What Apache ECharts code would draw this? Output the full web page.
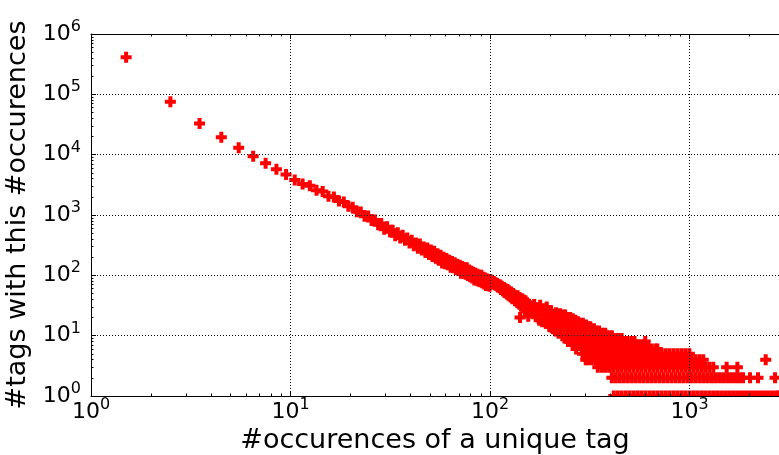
<!DOCTYPE html>
<html><head><meta charset="utf-8">
<script src="https://cdn.jsdelivr.net/npm/echarts@6/dist/echarts.min.js"></script>
<style>html,body{margin:0;padding:0;background:#fff}#c{width:779px;height:455px}</style>
</head><body><div id="c"></div><script>
// histogram: x = #occurrences (bin centre), y = #tags with that many occurrences
const headX = [1.5, 2.5, 3.5, 4.5, 5.5, 6.5, 7.5, 8.5, 9.5, 10.5];
const headY = [410000, 75000, 33000, 19500, 13000, 9400, 7200, 5750, 4680, 3820];

// bins 11.5 ... 99.5 (one per integer)
const bandFirstBin = 11.5;
const bandY = [3280,3050,2560,2450,2050,1990,1700,1640,1390,
  1350,1130,1120,950,960,810,830,690,720,580,640,530,560,455,510,415,
  460,380,415,345,380,310,345,280,330,262,295,238,
  285,222,262,205,250,192,228,178,215,160,200,155,190,150,178,136,170,133,162,
  125,152,120,147,108,140,108,134,104,134,99,122,95,117,90,112,84,108,84,104,
  80,100,78,100,75,93,72,90,68,87,68,85,66];

// bins 100.5..160.5 (step 1) then 162.5..230.5 (step 2)
const midY1 = [85,77,81,72,79,70,75,68,73,64,70,62,69,58,66,60,55,63,52,60,
  54,49,58,47,55,50,44,53,46,41,50,43,47,38,45,41,36,46,39,34,
  43,20,37,31,41,35,29,39,33,27,38,31,26,35,29,21,33,27,24,31,26];
const midY2 = [30,23,33,25,21,29,24,18,32,22,17,27,20,25,16,30,19,23,14,21,
  26,17,13,22,18,12,24,15,20,11,17,23,14,19,10];

// tail: small counts; for each count level, the occurrence values where it appears
const levelY = [22, 20, 19, 18, 17, 16, 15, 14, 13, 12, 11, 10, 9, 8, 7, 6, 5, 4, 3, 2, 1];
const levelX = [
  [233, 238],
  [235, 246, 252],
  [232, 241, 252, 260],
  [235, 246, 258, 268],
  [232, 241, 252, 264, 276],
  [235, 246, 258, 270, 282, 292],
  [232, 241, 252, 264, 276, 289, 303],
  [235, 246, 258, 270, 282, 296, 310, 318],
  [232, 241, 252, 264, 276, 289, 303, 317, 332],
  [235, 246, 258, 270, 282, 296, 310, 324, 339, 352],
  [232, 241, 252, 264, 276, 289, 303, 317, 332, 347, 364, 378],
  [235, 246, 258, 270, 282, 296, 310, 324, 339, 355, 372, 390, 408],
  [241, 252, 264, 276, 289, 303, 317, 332, 347, 364, 381, 399, 417, 437, 457],
  [246, 258, 270, 282, 296, 310, 324, 339, 355, 372, 390, 408, 427, 447, 468, 490, 513, 530, 600],
  [264, 276, 289, 303, 317, 332, 347, 364, 381, 399, 417, 437, 457, 479, 501, 525, 550, 575, 595],
  [270, 289, 296, 310, 324, 339, 355, 372, 390, 408, 427, 447, 468, 490, 513, 537, 562, 588, 616, 645, 675, 690],
  [291, 303, 317, 332, 347, 364, 381, 399, 417, 437, 457, 479, 501, 525, 550, 575, 602, 631, 660, 691, 724, 758, 793, 831, 870, 911, 953, 998],
  [302, 310, 324, 339, 355, 372, 390, 408, 427, 447, 468, 490, 513, 537, 562, 588, 616, 645, 675, 707, 740, 775, 812, 850, 890, 932, 976, 1021, 1069, 1120, 1172, 2410],
  [347, 364, 381, 399, 417, 437, 457, 479, 501, 525, 550, 575, 602, 631, 660, 691, 724, 758, 793, 831, 870, 911, 953, 998, 1045, 1094, 1146, 1199, 1256, 1316, 1535, 1738],
  [408, 427, 447, 468, 490, 513, 537, 562, 588, 616, 645, 675, 707, 740, 775, 812, 850, 890, 932, 976, 1021, 1069, 1120, 1172, 1227, 1285, 1345, 1408, 1474, 1544, 1616, 1692, 1771, 1854, 2011, 2205, 2684],
  [417, 437, 457, 479, 501, 525, 550, 575, 602, 631, 660, 691, 724, 758, 793, 831, 870, 911, 953, 998, 1045, 1094, 1146, 1199, 1256, 1315, 1376, 1441, 1509, 1580, 1654, 1732, 1813, 1898, 1987, 2081, 2178, 2281, 2388, 2500, 2618, 2741, 2800]
];

const xTitle = '#occurences of a unique tag';
const yTitle = '#tags with this #occurences';

// ---- assemble points ----
const pts = [];
headX.forEach((x, i) => pts.push([x, headY[i]]));
bandY.forEach((y, i) => pts.push([bandFirstBin + i, y]));
midY1.forEach((y, i) => pts.push([100.5 + i, y]));
midY2.forEach((y, i) => pts.push([162.5 + 2 * i, y]));
levelY.forEach((y, li) => levelX[li].forEach(x => pts.push([x, y])));

const minorX = [], minorY = [];
for (let d = 0; d < 4; d++) for (let k = 2; k <= 9; k++) minorX.push(d + Math.log10(k));
for (let d = 0; d < 6; d++) for (let k = 2; k <= 9; k++) minorY.push(d + Math.log10(k));

const FONT = 'DejaVu Sans';
const rich = {
  b: { fontSize: 22, fontFamily: FONT, color: '#000', lineHeight: 30 },
  s: { fontSize: 16, fontFamily: FONT, color: '#000', lineHeight: 18, verticalAlign: 'top' }
};
const fmt = v => '{b|10}{s|' + Math.round(Math.log10(v)) + '}';
const spine = { onZero: false, lineStyle: { color: '#000', width: 1 } };
const grid = { show: true, lineStyle: { color: '#000', width: 1, type: [1, 2] } };

// filled "plus" marker, half-arm 5.5 px, half-thickness 2 px
const A = 5.5, T = 2;
function plus(api) {
  const p = api.coord([api.value(0), api.value(1)]);
  const x = p[0], y = p[1];
  return {
    type: 'polygon',
    shape: { points: [
      [x - T, y - A], [x + T, y - A], [x + T, y - T], [x + A, y - T], [x + A, y + T], [x + T, y + T],
      [x + T, y + A], [x - T, y + A], [x - T, y + T], [x - A, y + T], [x - A, y - T], [x - T, y - T]
    ] },
    style: { fill: '#ff0000' }
  };
}

const chart = echarts.init(document.getElementById('c'), null, { renderer: 'canvas' });
chart.setOption({
  animation: false,
  backgroundColor: '#fff',
  grid: { left: 91, top: 34, right: -110, bottom: 59, containLabel: false, outerBoundsMode: 'none' },
  xAxis: [
    { type: 'log', min: 1, max: 10000, position: 'bottom', z: 5,
      axisLine: spine, axisTick: { inside: true, length: 5, lineStyle: { color: '#000' } },
      splitLine: grid, axisLabel: { margin: 1, formatter: fmt, rich: rich },
      name: xTitle, nameLocation: 'middle', nameGap: 31,
      nameTextStyle: { fontSize: 27, fontFamily: FONT, color: '#000', padding: [0, 110, 0, 0] } },
    { type: 'value', min: 0, max: 4, position: 'bottom', z: 5,
      axisLine: { show: false, onZero: false }, axisTick: { inside: true, length: 2.5, customValues: minorX, lineStyle: { color: '#000' } },
      axisLabel: { show: false }, splitLine: { show: false } },
    { type: 'log', min: 1, max: 10000, position: 'top', z: 5,
      axisLine: spine, axisTick: { inside: true, length: 5, lineStyle: { color: '#000' } },
      axisLabel: { show: false }, splitLine: { show: false } },
    { type: 'value', min: 0, max: 4, position: 'top', z: 5,
      axisLine: { show: false, onZero: false }, axisTick: { inside: true, length: 2.5, customValues: minorX, lineStyle: { color: '#000' } },
      axisLabel: { show: false }, splitLine: { show: false } }
  ],
  yAxis: [
    { type: 'log', min: 1, max: 1000000, position: 'left', z: 5,
      axisLine: spine, axisTick: { inside: true, length: 5, lineStyle: { color: '#000' } },
      splitLine: grid, axisLabel: { margin: 10, formatter: fmt, rich: rich },
      name: yTitle, nameLocation: 'middle', nameGap: 50,
      nameTextStyle: { fontSize: 27, fontFamily: FONT, color: '#000' } },
    { type: 'value', min: 0, max: 6, position: 'left', z: 5,
      axisLine: { show: false, onZero: false }, axisTick: { inside: true, length: 2.5, customValues: minorY, lineStyle: { color: '#000' } },
      axisLabel: { show: false }, splitLine: { show: false } }
  ],
  series: [{
    type: 'custom', xAxisIndex: 0, yAxisIndex: 0, data: pts, clip: true,
    encode: { x: 0, y: 1 }, renderItem: (params, api) => plus(api)
  }]
});
</script></body></html>
